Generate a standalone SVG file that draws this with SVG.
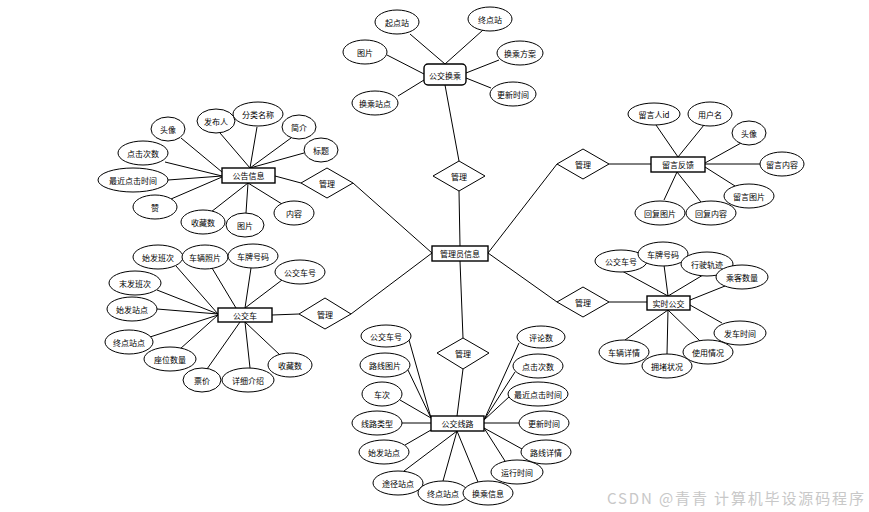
<svg xmlns="http://www.w3.org/2000/svg" width="869" height="512" viewBox="0 0 869 512">
<style>
.e{fill:#fff;stroke:#000;stroke-width:1}
.r{fill:#fff;stroke:#000;stroke-width:1.4}
.d{fill:#fff;stroke:#000;stroke-width:1}
.c line{stroke:#000;stroke-width:1}
text{font-family:"Noto Sans CJK SC","Liberation Sans",sans-serif;font-size:8px;fill:#000;text-anchor:middle;dominant-baseline:central}
.wm{font-size:15px;fill:#c8c8c8;text-anchor:start}
</style>
<rect width="869" height="512" fill="#fff"/>
<g id="connectors" class="c">
<line x1="410" y1="34" x2="445" y2="64"/>
<line x1="483" y1="30" x2="445" y2="64"/>
<line x1="387" y1="55" x2="424" y2="74"/>
<line x1="499" y1="60" x2="466" y2="73"/>
<line x1="491" y1="88" x2="466" y2="78"/>
<line x1="398" y1="96" x2="424" y2="80"/>
<line x1="445" y1="85" x2="459" y2="161"/>
<line x1="459" y1="191" x2="460" y2="246"/>
<line x1="353" y1="183" x2="432" y2="253"/>
<line x1="351" y1="314" x2="432" y2="253"/>
<line x1="460" y1="261" x2="463" y2="338"/>
<line x1="557" y1="164" x2="488" y2="253"/>
<line x1="557" y1="302" x2="488" y2="253"/>
<line x1="275" y1="176" x2="301" y2="183"/>
<line x1="181" y1="138" x2="222" y2="172"/>
<line x1="220" y1="133" x2="250" y2="168"/>
<line x1="257" y1="127" x2="250" y2="168"/>
<line x1="291" y1="138" x2="250" y2="168"/>
<line x1="304" y1="153" x2="250" y2="168"/>
<line x1="165" y1="162" x2="222" y2="176"/>
<line x1="168" y1="180" x2="222" y2="176"/>
<line x1="171" y1="199" x2="222" y2="177"/>
<line x1="211" y1="212" x2="248" y2="183"/>
<line x1="246" y1="213" x2="248" y2="183"/>
<line x1="282" y1="204" x2="248" y2="183"/>
<line x1="272" y1="315" x2="299" y2="314"/>
<line x1="176" y1="266" x2="218" y2="314"/>
<line x1="212" y1="268" x2="236" y2="308"/>
<line x1="251" y1="268" x2="245" y2="308"/>
<line x1="282" y1="280" x2="245" y2="308"/>
<line x1="157" y1="290" x2="218" y2="314"/>
<line x1="157" y1="309" x2="218" y2="314"/>
<line x1="150" y1="337" x2="218" y2="315"/>
<line x1="180" y1="349" x2="218" y2="315"/>
<line x1="207" y1="369" x2="240" y2="322"/>
<line x1="250" y1="368" x2="245" y2="322"/>
<line x1="280" y1="355" x2="245" y2="322"/>
<line x1="609" y1="164" x2="651" y2="164"/>
<line x1="656" y1="125" x2="678" y2="157"/>
<line x1="704" y1="125" x2="678" y2="157"/>
<line x1="741" y1="143" x2="705" y2="163"/>
<line x1="760" y1="164" x2="705" y2="164"/>
<line x1="735" y1="186" x2="705" y2="167"/>
<line x1="701" y1="202" x2="677" y2="172"/>
<line x1="664" y1="200" x2="677" y2="172"/>
<line x1="609" y1="302" x2="647" y2="302"/>
<line x1="622" y1="271" x2="668" y2="296"/>
<line x1="664" y1="265" x2="668" y2="296"/>
<line x1="703" y1="275" x2="668" y2="296"/>
<line x1="725" y1="286" x2="690" y2="300"/>
<line x1="722" y1="323" x2="690" y2="305"/>
<line x1="700" y1="341" x2="668" y2="310"/>
<line x1="667" y1="354" x2="668" y2="310"/>
<line x1="625" y1="340" x2="668" y2="310"/>
<line x1="463" y1="369" x2="457" y2="416"/>
<line x1="409" y1="340" x2="431" y2="418"/>
<line x1="407" y1="368" x2="431" y2="418"/>
<line x1="400" y1="400" x2="431" y2="418"/>
<line x1="402" y1="423" x2="431" y2="423"/>
<line x1="405" y1="445" x2="431" y2="430"/>
<line x1="404" y1="471" x2="457" y2="431"/>
<line x1="443" y1="481" x2="457" y2="431"/>
<line x1="478" y1="482" x2="457" y2="431"/>
<line x1="505" y1="461" x2="484" y2="428"/>
<line x1="522" y1="449" x2="484" y2="428"/>
<line x1="519" y1="423" x2="484" y2="423"/>
<line x1="510" y1="396" x2="484" y2="420"/>
<line x1="515" y1="372" x2="484" y2="420"/>
<line x1="519" y1="343" x2="484" y2="420"/>
</g>

<g id="n-gongjiaohuancheng"><rect class="r" x="424" y="64" width="42" height="21" rx="4" stroke="#333"/><text x="445" y="75">公交换乘</text></g>
<g id="n-hc-qidian"><ellipse class="e" cx="397" cy="22" rx="22" ry="12"/><text x="397" y="22">起点站</text></g>
<g id="n-hc-zhongdian"><ellipse class="e" cx="490" cy="19" rx="22" ry="12"/><text x="490" y="19">终点站</text></g>
<g id="n-hc-tupian"><ellipse class="e" cx="365" cy="52" rx="22" ry="12"/><text x="365" y="52">图片</text></g>
<g id="n-hc-fangan"><ellipse class="e" cx="520" cy="53" rx="23" ry="12"/><text x="520" y="53">换乘方案</text></g>
<g id="n-hc-gengxin"><ellipse class="e" cx="513" cy="94" rx="23" ry="12"/><text x="513" y="94">更新时间</text></g>
<g id="n-hc-zhandian"><ellipse class="e" cx="375" cy="103" rx="23" ry="12"/><text x="375" y="103">换乘站点</text></g>

<g id="d-top"><polygon class="d" points="433,176 459,161 485,176 459,191"/><text x="459" y="176">管理</text></g>
<g id="n-admin"><rect class="r" x="432" y="246" width="56" height="15"/><text x="460" y="253.5">管理员信息</text></g>
<g id="d-lefttop"><polygon class="d" points="301,183 327,168 353,183 327,198"/><text x="327" y="183">管理</text></g>
<g id="d-leftbottom"><polygon class="d" points="299,314 325,298 351,314 325,329"/><text x="325" y="314">管理</text></g>
<g id="d-bottom"><polygon class="d" points="437,353 463,338 489,353 463,369"/><text x="463" y="353">管理</text></g>
<g id="d-righttop"><polygon class="d" points="557,164 583,149 609,164 583,179"/><text x="583" y="164">管理</text></g>
<g id="d-rightbottom"><polygon class="d" points="557,302 583,287 609,302 583,317"/><text x="583" y="302">管理</text></g>

<g id="n-gonggao"><rect class="r" x="222" y="168" width="53" height="15"/><text x="248.5" y="175.5">公告信息</text></g>
<g id="n-gg-touxiang"><ellipse class="e" cx="168" cy="129" rx="17" ry="12"/><text x="168" y="129">头像</text></g>
<g id="n-gg-fabuaren"><ellipse class="e" cx="216" cy="121" rx="19" ry="12"/><text x="216" y="121">发布人</text></g>
<g id="n-gg-fenlei"><ellipse class="e" cx="258" cy="114" rx="25" ry="12"/><text x="258" y="114">分类名称</text></g>
<g id="n-gg-jianjie"><ellipse class="e" cx="299" cy="127" rx="17" ry="12"/><text x="299" y="127">简介</text></g>
<g id="n-gg-biaoti"><ellipse class="e" cx="321" cy="150" rx="17" ry="12"/><text x="321" y="150">标题</text></g>
<g id="n-gg-dianji"><ellipse class="e" cx="143" cy="153" rx="25" ry="12"/><text x="143" y="153">点击次数</text></g>
<g id="n-gg-zuijin"><ellipse class="e" cx="133" cy="180" rx="35" ry="12"/><text x="133" y="180">最近点击时间</text></g>
<g id="n-gg-zan"><ellipse class="e" cx="155" cy="207" rx="22" ry="12"/><text x="155" y="207">赞</text></g>
<g id="n-gg-shoucang"><ellipse class="e" cx="203" cy="222" rx="22" ry="12"/><text x="203" y="222">收藏数</text></g>
<g id="n-gg-tupian"><ellipse class="e" cx="245" cy="225" rx="19" ry="12"/><text x="245" y="225">图片</text></g>
<g id="n-gg-neirong"><ellipse class="e" cx="294" cy="213" rx="20" ry="12"/><text x="294" y="213">内容</text></g>

<g id="n-gongjiaoche"><rect class="r" x="218" y="308" width="54" height="14"/><text x="245" y="315">公交车</text></g>
<g id="n-gjc-shifabanci"><ellipse class="e" cx="158" cy="257" rx="25" ry="12"/><text x="158" y="257">始发班次</text></g>
<g id="n-gjc-zhaopian"><ellipse class="e" cx="205" cy="257" rx="23" ry="12"/><text x="205" y="257">车辆照片</text></g>
<g id="n-gjc-chepai"><ellipse class="e" cx="253" cy="256" rx="25" ry="12"/><text x="253" y="256">车牌号码</text></g>
<g id="n-gjc-chehao"><ellipse class="e" cx="300" cy="272" rx="25" ry="12"/><text x="300" y="272">公交车号</text></g>
<g id="n-gjc-mofabanci"><ellipse class="e" cx="135" cy="283" rx="26" ry="12"/><text x="135" y="283">末发班次</text></g>
<g id="n-gjc-shifazhandian"><ellipse class="e" cx="132" cy="309" rx="25" ry="12"/><text x="132" y="309">始发站点</text></g>
<g id="n-gjc-zhongdian"><ellipse class="e" cx="129" cy="342" rx="24" ry="12"/><text x="129" y="342">终点站点</text></g>
<g id="n-gjc-zuowei"><ellipse class="e" cx="170" cy="359" rx="26" ry="12"/><text x="170" y="359">座位数量</text></g>
<g id="n-gjc-piaojia"><ellipse class="e" cx="202" cy="380" rx="19" ry="12"/><text x="202" y="380">票价</text></g>
<g id="n-gjc-xiangxi"><ellipse class="e" cx="248" cy="380" rx="26" ry="12"/><text x="248" y="380">详细介绍</text></g>
<g id="n-gjc-shoucang"><ellipse class="e" cx="290" cy="365" rx="22" ry="12"/><text x="290" y="365">收藏数</text></g>

<g id="n-liuyan"><rect class="r" x="651" y="157" width="54" height="15"/><text x="678" y="164.5">留言反馈</text></g>
<g id="n-ly-ren"><ellipse class="e" cx="654" cy="114" rx="26" ry="11"/><text x="654" y="114">留言人id</text></g>
<g id="n-ly-yonghu"><ellipse class="e" cx="710" cy="114" rx="22" ry="12"/><text x="710" y="114">用户名</text></g>
<g id="n-ly-touxiang"><ellipse class="e" cx="749" cy="133" rx="17" ry="12"/><text x="749" y="133">头像</text></g>
<g id="n-ly-neirong"><ellipse class="e" cx="782" cy="164" rx="22" ry="12"/><text x="782" y="164">留言内容</text></g>
<g id="n-ly-tupian"><ellipse class="e" cx="749" cy="196" rx="25" ry="12"/><text x="749" y="196">留言图片</text></g>
<g id="n-ly-huifuneirong"><ellipse class="e" cx="711" cy="213" rx="25" ry="12"/><text x="711" y="213">回复内容</text></g>
<g id="n-ly-huifutupian"><ellipse class="e" cx="660" cy="213" rx="25" ry="12"/><text x="660" y="213">回复图片</text></g>

<g id="n-shishi"><rect class="r" x="647" y="296" width="43" height="14"/><text x="668.5" y="303">实时公交</text></g>
<g id="n-ss-chehao"><ellipse class="e" cx="621" cy="261" rx="26" ry="11"/><text x="621" y="261">公交车号</text></g>
<g id="n-ss-chepai"><ellipse class="e" cx="663" cy="254" rx="25" ry="12"/><text x="663" y="254">车牌号码</text></g>
<g id="n-ss-guiji"><ellipse class="e" cx="707" cy="264" rx="26" ry="12"/><text x="707" y="264">行驶轨迹</text></g>
<g id="n-ss-chengke"><ellipse class="e" cx="742" cy="277" rx="26" ry="12"/><text x="742" y="277">乘客数量</text></g>
<g id="n-ss-fache"><ellipse class="e" cx="740" cy="333" rx="26" ry="12"/><text x="740" y="333">发车时间</text></g>
<g id="n-ss-shiyong"><ellipse class="e" cx="708" cy="352" rx="25" ry="12"/><text x="708" y="352">使用情况</text></g>
<g id="n-ss-yongdu"><ellipse class="e" cx="667" cy="366" rx="25" ry="12"/><text x="667" y="366">拥堵状况</text></g>
<g id="n-ss-xiangqing"><ellipse class="e" cx="624" cy="352" rx="25" ry="12"/><text x="624" y="352">车辆详情</text></g>

<g id="n-xianlu"><rect class="r" x="431" y="416" width="53" height="15"/><text x="457.5" y="423.5">公交线路</text></g>
<g id="n-xl-chehao"><ellipse class="e" cx="386" cy="336" rx="25" ry="11"/><text x="386" y="336">公交车号</text></g>
<g id="n-xl-tupian"><ellipse class="e" cx="385" cy="365" rx="25" ry="12"/><text x="385" y="365">路线图片</text></g>
<g id="n-xl-checi"><ellipse class="e" cx="382" cy="394" rx="20" ry="12"/><text x="382" y="394">车次</text></g>
<g id="n-xl-leixing"><ellipse class="e" cx="377" cy="423" rx="25" ry="12"/><text x="377" y="423">线路类型</text></g>
<g id="n-xl-shifa"><ellipse class="e" cx="384" cy="452" rx="25" ry="12"/><text x="384" y="452">始发站点</text></g>
<g id="n-xl-tujing"><ellipse class="e" cx="398" cy="483" rx="25" ry="12"/><text x="398" y="483">途径站点</text></g>
<g id="n-xl-zhongdian"><ellipse class="e" cx="443" cy="493" rx="25" ry="12"/><text x="443" y="493">终点站点</text></g>
<g id="n-xl-huancheng"><ellipse class="e" cx="488" cy="493" rx="25" ry="12"/><text x="488" y="493">换乘信息</text></g>
<g id="n-xl-yunxing"><ellipse class="e" cx="517" cy="472" rx="26" ry="12"/><text x="517" y="472">运行时间</text></g>
<g id="n-xl-xiangqing"><ellipse class="e" cx="546" cy="452" rx="25" ry="12"/><text x="546" y="452">路线详情</text></g>
<g id="n-xl-gengxin"><ellipse class="e" cx="544" cy="423" rx="25" ry="12"/><text x="544" y="423">更新时间</text></g>
<g id="n-xl-zuijin"><ellipse class="e" cx="538" cy="394" rx="30" ry="12"/><text x="538" y="394">最近点击时间</text></g>
<g id="n-xl-dianji"><ellipse class="e" cx="538" cy="366" rx="25" ry="12"/><text x="538" y="366">点击次数</text></g>
<g id="n-xl-pinglun"><ellipse class="e" cx="541" cy="337" rx="24" ry="11"/><text x="541" y="337">评论数</text></g>

<text class="wm" x="607" y="497" textLength="257" lengthAdjust="spacing">CSDN @青青  计算机毕设源码程序</text>
</svg>
